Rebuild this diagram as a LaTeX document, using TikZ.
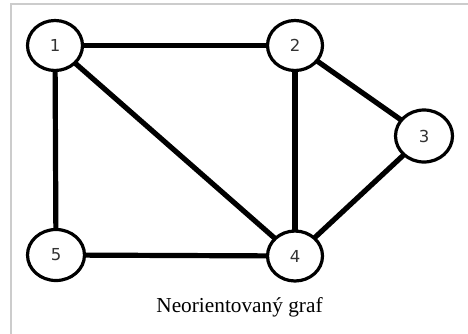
\documentclass[tikz,border=0pt]{standalone}
\usepackage{fontspec}
\setmainfont{Liberation Serif}
\newfontfamily\labelfont{DejaVu Sans}
\usetikzlibrary{shapes.geometric}
\definecolor{framegray}{HTML}{CCCCCC}
\definecolor{labelgray}{HTML}{333333}
\tikzset{
  vertex/.style={ellipse, draw=black, line width=3.2pt, fill=white,
    minimum width=55pt, minimum height=50pt, inner sep=0pt, outer sep=0pt,
    font=\labelfont\fontsize{16.5pt}{16.5pt}\selectfont, text=labelgray},
  edge/.style={line width=5.2pt, black},
  framestyle/.style={draw=framegray, line width=1.3pt},
  captionstyle/.style={font=\fontsize{21.3pt}{21.3pt}\selectfont, anchor=base, inner sep=0pt}
}
\begin{document}
\begin{tikzpicture}[x=1pt,y=-1pt]
\useasboundingbox (0,0) rectangle (468,333);
\fill[white] (0,0) rectangle (468,333);
\coordinate (fa) at (11,340);
\coordinate (fb) at (11,4);
\coordinate (fc) at (470,4);
\draw[framestyle] (fa) -- (fb) -- (fc);
\node[vertex] (n1) at (55,45.5) {1};
\node[vertex] (n2) at (295,45.5) {2};
\node[vertex, minimum width=57pt, minimum height=52pt] (n3) at (424,136) {3};
\node[vertex] (n4) at (295,256) {4};
\node[vertex, minimum width=57pt, minimum height=51pt] (n5) at (56,255) {5};
\draw[edge] (n1) -- (n2);
\draw[edge] (n1) -- (n5);
\draw[edge] (n1) -- (n4);
\draw[edge] (n2) -- (n4);
\draw[edge] (n2) -- (n3);
\draw[edge] (n3) -- (n4);
\draw[edge] (n5) -- (n4);
\node[captionstyle] (cap) at (239.5,312) {Neorientovaný graf};
\end{tikzpicture}
\end{document}
